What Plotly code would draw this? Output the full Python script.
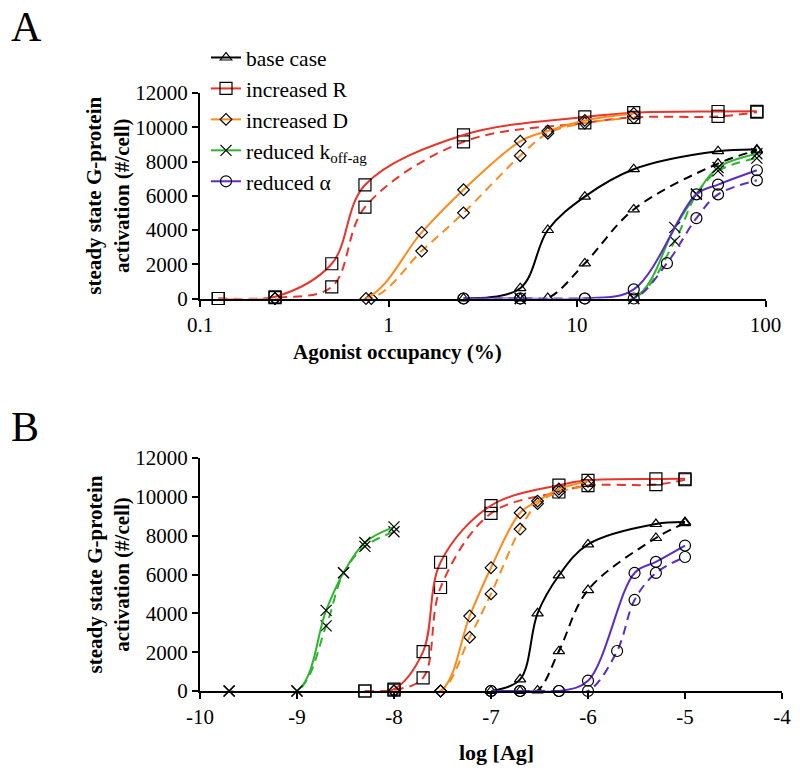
import plotly.graph_objects as go

# ---------------- data ----------------
# base case
base_occ_solid = [2.5, 5, 7, 11, 20, 56, 90]
base_log_solid = [-7, -6.7, -6.52, -6.3, -6, -5.3, -5]
base_y_solid = [0, 600, 4000, 5950, 7550, 8600, 8700]
base_occ_dash = [5, 7, 11, 20, 56, 90]
base_log_dash = [-6.7, -6.52, -6.3, -6, -5.3, -5]
base_y_dash = [0, 30, 2050, 5200, 7880, 8650]

# increased R
r_occ = [0.125, 0.25, 0.5, 0.75, 2.5, 11, 20, 56, 90]
r_log = [-8.3, -8, -7.7, -7.52, -7, -6.3, -6, -5.3, -5]
r_y_solid = [0, 100, 2030, 6630, 9550, 10600, 10850, 10920, 10930]
r_y_dash = [0, 50, 680, 5330, 9150, 10250, 10580, 10630, 10880]

# increased D
d_occ_solid = [0.25, 0.76, 1.5, 2.5, 5, 7, 11, 20]
d_occ_dash = [0.25, 0.81, 1.5, 2.5, 5, 7, 11, 20]
d_log = [-8, -7.52, -7.22, -7, -6.7, -6.52, -6.3, -6]
d_y_solid = [0, 0, 3860, 6350, 9180, 9780, 10400, 10800]
d_y_dash = [0, 0, 2770, 5000, 8340, 9650, 10250, 10550]

# reduced k_off-ag
k_occ = [5, 20, 33, 43, 56, 90]
k_log = [-9.7, -9, -8.7, -8.52, -8.3, -8]
k_y_solid = [0, 0, 4150, 6100, 7650, 8450]
k_y_dash = [0, 0, 3350, 6080, 7450, 8200]

# reduced alpha
a_occ_solid = [2.5, 5, 11, 20, 43, 56, 90]
a_log_solid = [-7, -6.7, -6.3, -6, -5.52, -5.3, -5]
a_y_solid = [0, 0, 0, 530, 6080, 6650, 7490]
a_occ_dash = [2.5, 5, 11, 20, 30, 43, 56, 90]
a_log_dash = [-7, -6.7, -6.3, -6, -5.7, -5.52, -5.3, -5]
a_y_dash = [0, 0, 0, 0, 2060, 4690, 6080, 6900]

names = ["base case", "increased R", "increased D",
         "reduced k<sub>off-ag</sub>", "reduced \u03b1"]
y_ticks = [0, 2000, 4000, 6000, 8000, 10000, 12000]
y_ticklabels = ["0", "2000", "4000", "6000", "8000", "10000", "12000"]
occ_ticks = [0.1, 1, 10, 100]
occ_ticklabels = ["0.1", "1", "10", "100"]
log_ticks = [-10, -9, -8, -7, -6, -5, -4]
log_ticklabels = ["-10", "-9", "-8", "-7", "-6", "-5", "-4"]

# ---------------- styling ----------------
FONT = "Liberation Serif"
OFF = 8                       # page body margin offset
W, H = 800 - OFF, 772 - OFF
colors = ["#000000", "#E8352B", "#FF8A1C", "#2DB52D", "#5A2DC8"]
symbols = ["triangle-up-open", "square-open", "diamond-open", "x-thin-open", "circle-open"]
msizes = [10, 12, 9, 11, 11]

series = [
    (base_occ_solid, base_log_solid, base_y_solid, base_occ_dash, base_log_dash, base_y_dash),
    (r_occ, r_log, r_y_solid, r_occ, r_log, r_y_dash),
    (d_occ_solid, d_log, d_y_solid, d_occ_dash, d_log, d_y_dash),
    (k_occ, k_log, k_y_solid, k_occ, k_log, k_y_dash),
    (a_occ_solid, a_log_solid, a_y_solid, a_occ_dash, a_log_dash, a_y_dash),
]

fig = go.Figure()
for i, (xo_s, xl_s, y_s, xo_d, xl_d, y_d) in enumerate(series):
    mk = dict(symbol=symbols[i], size=msizes[i], color="black",
              line=dict(color="black", width=1.2))
    for panel, (xs, xd), (xa, ya) in [("A", (xo_s, xo_d), ("x", "y")),
                                      ("B", (xl_s, xl_d), ("x2", "y2"))]:
        fig.add_trace(go.Scatter(
            x=xd, y=y_d, xaxis=xa, yaxis=ya, mode="lines+markers",
            line=dict(color=colors[i], width=2, dash="9px,6px", shape="spline", smoothing=1.0),
            marker=mk, showlegend=False, cliponaxis=False))
        fig.add_trace(go.Scatter(
            x=xs, y=y_s, xaxis=xa, yaxis=ya, mode="lines+markers",
            line=dict(color=colors[i], width=2, shape="spline", smoothing=1.0),
            marker=mk, name=names[i], showlegend=(panel == "A"),
            cliponaxis=False))

def px_x(p):
    return (p - OFF) / W

def px_y(p):
    return 1 - (p - OFF) / H

def axis_common():
    return dict(showline=True, linecolor="black", linewidth=2, ticks="outside",
                ticklen=6, tickwidth=2, tickcolor="black", showgrid=False,
                zeroline=False, automargin=False,
                tickfont=dict(family=FONT, size=21, color="black"))

fig.update_layout(
    template="none",
    width=W, height=H, margin=dict(l=0, r=0, t=0, b=0),
    paper_bgcolor="white", plot_bgcolor="white",
    font=dict(family=FONT, color="black", size=21),
    xaxis=dict(type="log", range=[-1, 2], domain=[px_x(200), px_x(765.5)], anchor="y",
               tickmode="array", tickvals=occ_ticks, ticktext=occ_ticklabels, **axis_common()),
    yaxis=dict(range=[0, 12000], domain=[px_y(298.5), px_y(93)], anchor="x",
               tickmode="array", tickvals=y_ticks, ticktext=y_ticklabels, **axis_common()),
    xaxis2=dict(range=[-10, -4], domain=[px_x(200), px_x(782)], anchor="y2",
                tickmode="array", tickvals=log_ticks, ticktext=log_ticklabels, **axis_common()),
    yaxis2=dict(range=[0, 12000], domain=[px_y(691), px_y(458)], anchor="x2",
                tickmode="array", tickvals=y_ticks, ticktext=y_ticklabels, **axis_common()),
    legend=dict(x=px_x(206), y=px_y(37), xanchor="left", yanchor="top",
                font=dict(family=FONT, size=21.5, color="black"),
                bgcolor="rgba(0,0,0,0)", borderwidth=0, tracegroupgap=0, itemwidth=30),
    showlegend=True,
)

ytitle = "<b>steady state G-protein<br>activation (#/cell)</b>"
for yc in (195.75, 574.5):
    fig.add_annotation(x=px_x(108), y=px_y(yc), xref="paper", yref="paper",
                       xanchor="center", yanchor="middle",
                       text=ytitle, textangle=-90, showarrow=False,
                       font=dict(family=FONT, size=21, color="black"))
fig.add_annotation(x=px_x(397), y=px_y(352), xref="paper", yref="paper",
                   xanchor="center", yanchor="middle",
                   text="<b>Agonist occupancy (%)</b>", showarrow=False,
                   font=dict(family=FONT, size=21, color="black"))
fig.add_annotation(x=px_x(496), y=px_y(752), xref="paper", yref="paper",
                   xanchor="center", yanchor="middle",
                   text="<b>log [Ag]</b>", showarrow=False,
                   font=dict(family=FONT, size=22, color="black"))
fig.add_annotation(x=px_x(9), y=px_y(27), xref="paper", yref="paper",
                   xanchor="left", yanchor="middle",
                   text="A", showarrow=False,
                   font=dict(family=FONT, size=42, color="black"))
fig.add_annotation(x=px_x(9), y=px_y(427), xref="paper", yref="paper",
                   xanchor="left", yanchor="middle",
                   text="B", showarrow=False,
                   font=dict(family=FONT, size=42, color="black"))

fig.write_html("out.html")
